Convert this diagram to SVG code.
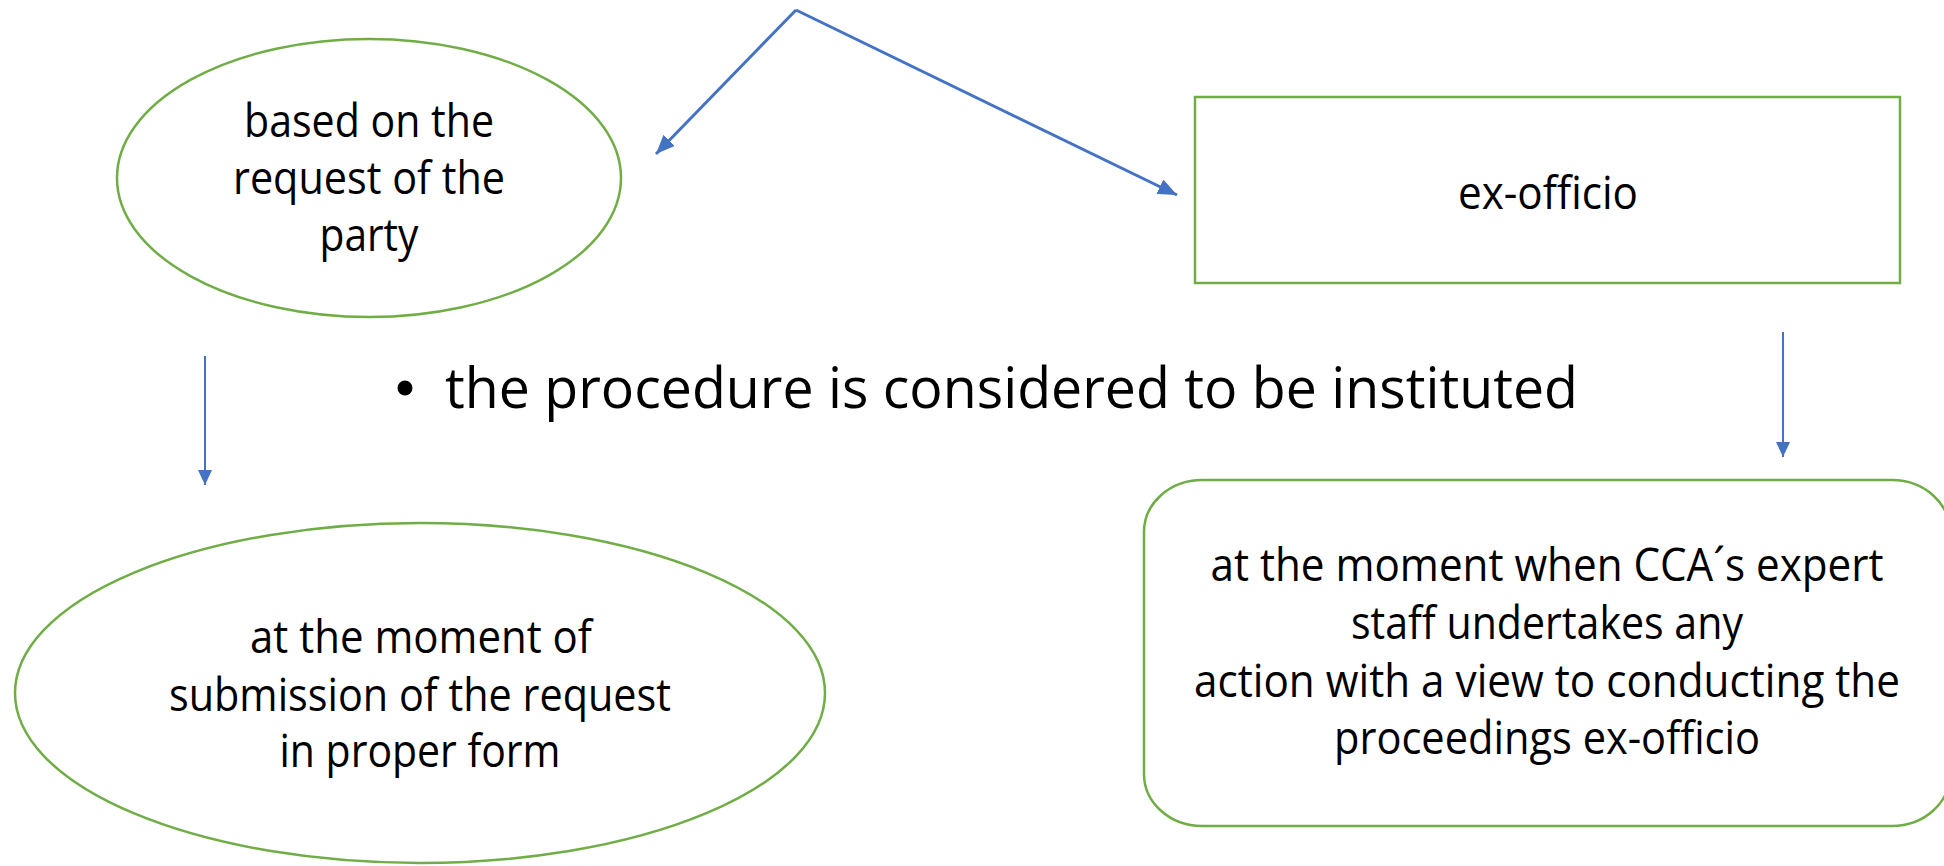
<svg xmlns="http://www.w3.org/2000/svg" width="1944" height="866" viewBox="0 0 1944 866">
  <style>
    .shape { fill: #FFFFFF; stroke: #70AD47; stroke-width: 2.5; }
    .lbl { font-family: "Open Sans", "Liberation Sans", sans-serif; font-size: 45px; fill: #000000; text-anchor: middle; }
    .big { font-family: "Open Sans", "Liberation Sans", sans-serif; font-size: 57px; fill: #000000; }
    .conn { stroke: #4472C4; fill: none; }
  </style>
  <defs>
    <marker id="ahBig" markerUnits="userSpaceOnUse" markerWidth="20" markerHeight="16" refX="19" refY="8" orient="auto">
      <path d="M0,0 L19,8 L0,16 z" fill="#4472C4"/>
    </marker>
    <marker id="ahSmall" markerUnits="userSpaceOnUse" markerWidth="16" markerHeight="14" refX="15" refY="7" orient="auto">
      <path d="M0,0 L15,7 L0,14 z" fill="#4472C4"/>
    </marker>
  </defs>
  <rect x="0" y="0" width="1944" height="866" fill="#FFFFFF"/>

  <g id="connectors">
    <line class="conn" x1="796" y1="10" x2="656" y2="154" stroke-width="3" marker-end="url(#ahBig)"/>
    <line class="conn" x1="796" y1="10" x2="1177" y2="195" stroke-width="3" marker-end="url(#ahBig)"/>
    <line class="conn" x1="205" y1="356" x2="205" y2="485" stroke-width="2" marker-end="url(#ahSmall)"/>
    <line class="conn" x1="1783" y1="332" x2="1783" y2="457" stroke-width="2" marker-end="url(#ahSmall)"/>
  </g>

  <g id="node-request">
    <ellipse class="shape" cx="369" cy="178" rx="252" ry="139"/>
    <text class="lbl" x="369" y="137" textLength="250" lengthAdjust="spacingAndGlyphs">based on the</text>
    <text class="lbl" x="369" y="194" textLength="272" lengthAdjust="spacingAndGlyphs">request of the</text>
    <text class="lbl" x="369" y="251" textLength="99" lengthAdjust="spacingAndGlyphs">party</text>
  </g>

  <g id="node-exofficio">
    <rect class="shape" x="1195" y="97" width="705" height="186" stroke-width="3"/>
    <text class="lbl" x="1548" y="209" textLength="180" lengthAdjust="spacingAndGlyphs">ex-officio</text>
  </g>

  <g id="node-instituted">
    <circle cx="405" cy="388" r="7.5" fill="#000000"/>
    <text class="big" x="445" y="408" textLength="1133" lengthAdjust="spacingAndGlyphs">the procedure is considered to be instituted</text>
  </g>

  <g id="node-submission">
    <ellipse class="shape" cx="420" cy="693" rx="405" ry="170"/>
    <text class="lbl" x="421" y="653" textLength="342" lengthAdjust="spacingAndGlyphs">at the moment of</text>
    <text class="lbl" x="420" y="711" textLength="502" lengthAdjust="spacingAndGlyphs">submission of the request</text>
    <text class="lbl" x="420" y="767" textLength="281" lengthAdjust="spacingAndGlyphs">in proper form</text>
  </g>

  <g id="node-action">
    <rect class="shape" x="1144" y="480" width="806" height="346" rx="58" ry="52"/>
    <text class="lbl" x="1547" y="581" textLength="673" lengthAdjust="spacingAndGlyphs">at the moment when CCA´s expert</text>
    <text class="lbl" x="1547" y="639" textLength="392" lengthAdjust="spacingAndGlyphs">staff undertakes any</text>
    <text class="lbl" x="1547" y="697" textLength="706" lengthAdjust="spacingAndGlyphs">action with a view to conducting the</text>
    <text class="lbl" x="1547" y="754" textLength="426" lengthAdjust="spacingAndGlyphs">proceedings ex-officio</text>
  </g>
</svg>
